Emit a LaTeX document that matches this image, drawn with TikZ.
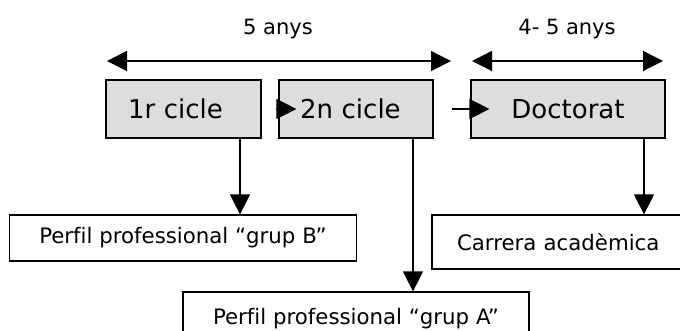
\documentclass[tikz,border=0pt]{standalone}
\usepackage{fontspec}
\setmainfont{DejaVu Sans}[Ligatures=NoCommon]
\usetikzlibrary{arrows.meta}
\definecolor{boxgray}{RGB}{221,221,221}
\begin{document}
\begin{tikzpicture}[x=1pt,y=-1pt,
  line width=1.2pt,
  arr/.style={-{Triangle[length=20pt,width=20pt]}},
  dbl/.style={{Triangle[length=20pt,width=20pt]}-{Triangle[length=20pt,width=20pt]}},
  stage/.style={draw, fill=boxgray, minimum height=58pt, inner ysep=0pt, font=\fontsize{26}{30}\selectfont},
  outcome/.style={draw, fill=white, inner ysep=0pt, font=\fontsize{21.3}{25}\selectfont},
  span/.style={font=\fontsize{21}{25}\selectfont, inner sep=0pt}]
\useasboundingbox (0,0) rectangle (680,331);
\clip (0,0) rectangle (680,331);
% top spans
\coordinate (s1l) at (107,61);
\coordinate (s1r) at (451,61);
\coordinate (s2l) at (472,61);
\coordinate (s2r) at (663,61);
\draw[dbl] (s1l) -- (s1r);
\draw[dbl] (s2l) -- (s2r);
\node[span] (l1) at (278,29) {5 anys};
\node[span] (l2) at (567,29) {4- 5 anys};
% stages
\node[stage, text width=111pt, inner xsep=22pt, align=left] (b1) at (183.5,109) {1r cicle};
\node[stage, text width=112pt, inner xsep=21pt, align=left] (b2) at (356,109) {2n cicle};
\node[stage, minimum width=194pt, inner xsep=0pt] (b3) at (568,109) {Doctorat};
% outcomes
\node[outcome, minimum width=347pt, minimum height=46pt] (pB) at (183,238) {Perfil professional “grup B”};
\node[outcome, minimum width=346pt, minimum height=53pt] (pA) at (356,318.5) {Perfil professional “grup A”};
\node[outcome, text width=208pt, inner xsep=25pt, align=left, minimum height=54pt] (ca) at (561,242) {Carrera acadèmica};
% connectors
\draw[arr] ([xshift=-2pt]b2.west) -- ([xshift=18pt]b2.west);
\draw[arr] ([xshift=18pt]b2.east) -- ([xshift=19pt]b3.west);
\coordinate (d1) at ([xshift=56.5pt]b1.south);
\coordinate (d2) at ([xshift=57pt]b2.south);
\coordinate (d3) at ([xshift=76pt]b3.south);
\draw[arr] (d1) -- (d1 |- pB.north);
\draw[arr] (d2) -- (d2 |- pA.north);
\draw[arr] (d3) -- (d3 |- ca.north);
\end{tikzpicture}
\end{document}
